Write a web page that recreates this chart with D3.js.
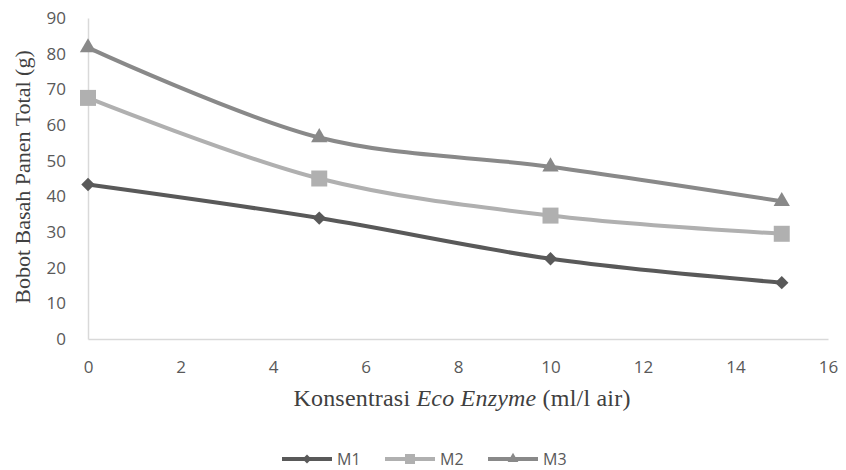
<!DOCTYPE html>
<html>
<head>
<meta charset="utf-8">
<script src="https://cdn.jsdelivr.net/npm/d3@7"></script>
<style>
  html, body { margin: 0; padding: 0; background: #fff; }
  svg { display: block; }
</style>
</head>
<body>
<svg id="chart" width="846" height="470"></svg>
<script>
// Eco Enzyme concentration (ml/l air)
const concentrations = [0, 5, 10, 15];
// Total fresh harvest weight (g) per treatment
const seriesNames = ["M1", "M2", "M3"];
const m1Values = [43.3, 33.9, 22.5, 15.8];
const m2Values = [67.6, 45.0, 34.6, 29.5];
const m3Values = [81.7, 56.5, 48.3, 38.6];
const xTicks = [0, 2, 4, 6, 8, 10, 12, 14, 16];
const yTicks = [0, 10, 20, 30, 40, 50, 60, 70, 80, 90];

const series = [
  { name: seriesNames[0], values: m1Values, color: "#595959", symbol: d3.symbolSquare, rotate: 45, size: 90, legendSize: 40 },
  { name: seriesNames[1], values: m2Values, color: "#b0b0b0", symbol: d3.symbolSquare, rotate: 0, size: 256, legendSize: 100 },
  { name: seriesNames[2], values: m3Values, color: "#898989", symbol: d3.symbolTriangle, rotate: 0, size: 115, legendSize: 50 }
];

const svg = d3.select("#chart");
const plotLeft = 88, plotRight = 828, plotTop = 18, plotBottom = 339;

const x = d3.scaleLinear().domain([0, 16]).range([plotLeft, plotRight]);
const y = d3.scaleLinear().domain([0, 90]).range([plotBottom, plotTop]);

const tickFont = "'Open Sans', 'Noto Sans', sans-serif";
const titleFont = "'Liberation Serif', 'Times New Roman', serif";

// Axes
const xAxis = svg.append("g").attr("transform", `translate(0,${plotBottom})`)
  .call(d3.axisBottom(x).tickValues(xTicks).tickSize(0).tickPadding(28));
const yAxis = svg.append("g").attr("transform", `translate(${plotLeft},0)`)
  .call(d3.axisLeft(y).tickValues(yTicks).tickSize(0).tickPadding(22));

[xAxis, yAxis].forEach(g => {
  g.select(".domain").attr("stroke", "#d9d9d9").attr("stroke-width", 1.5);
  g.selectAll("text")
    .attr("fill", "#595959")
    .style("font-family", tickFont)
    .style("font-size", "17px");
});
xAxis.selectAll("text").attr("dy", "0.35em");

// Axis titles
const xTitle = svg.append("text")
  .attr("x", 462).attr("y", 406)
  .attr("text-anchor", "middle")
  .attr("fill", "#404040")
  .style("font-family", titleFont)
  .style("font-size", "24px")
  .style("letter-spacing", "0.2px");
xTitle.append("tspan").text("Konsentrasi ");
xTitle.append("tspan").style("font-style", "italic").text("Eco Enzyme");
xTitle.append("tspan").text(" (ml/l air)");

svg.append("text")
  .attr("transform", `translate(30,177) rotate(-90)`)
  .attr("text-anchor", "middle")
  .attr("fill", "#404040")
  .style("font-family", titleFont)
  .style("font-size", "22px")
  .text("Bobot Basah Panen Total (g)");

// Smoothed lines with markers
const line = d3.line()
  .x((d, i) => x(concentrations[i]))
  .y(d => y(d))
  .curve(d3.curveCatmullRom.alpha(0.5));

series.forEach(s => {
  svg.append("path")
    .datum(s.values)
    .attr("d", line)
    .attr("fill", "none")
    .attr("stroke", s.color)
    .attr("stroke-width", 4)
    .attr("stroke-linecap", "round");
  svg.append("g").selectAll("path")
    .data(s.values)
    .join("path")
    .attr("d", d3.symbol().type(s.symbol).size(s.size))
    .attr("transform", (d, i) => `translate(${x(concentrations[i])},${y(d)}) rotate(${s.rotate})`)
    .attr("fill", s.color);
});

// Legend
const legendX = [282, 385, 488];
const legendY = 459;
series.forEach((s, i) => {
  const g = svg.append("g").attr("transform", `translate(${legendX[i]},${legendY})`);
  g.append("line").attr("x1", 0).attr("x2", 50).attr("y1", 0).attr("y2", 0)
    .attr("stroke", s.color).attr("stroke-width", 4);
  g.append("path").attr("d", d3.symbol().type(s.symbol).size(s.legendSize))
    .attr("transform", `translate(25,0) rotate(${s.rotate})`).attr("fill", s.color);
  g.append("text").attr("x", 55).attr("y", 0).attr("dy", "0.36em")
    .attr("fill", "#595959")
    .style("font-family", tickFont)
    .style("font-size", "16px")
    .text(s.name);
});
</script>
</body>
</html>
